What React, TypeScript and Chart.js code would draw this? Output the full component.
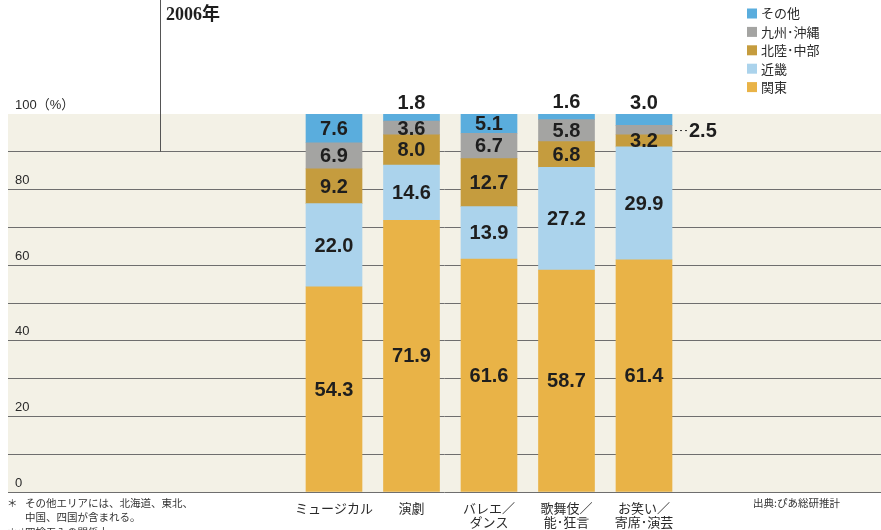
import React, { useEffect, useRef } from 'react';
import { Chart, registerables } from 'chart.js';

Chart.register(...registerables);

// ---- Data ----
const CATEGORIES: string[][] = [
  ['ミュージカル'],
  ['演劇'],
  ['バレエ／', 'ダンス'],
  ['歌舞伎／', '能･狂言'],
  ['お笑い／', '寄席･演芸'],
];
const SERIES_NAMES = ['関東', '近畿', '北陸･中部', '九州･沖縄', 'その他'];
const KANTO = [54.3, 71.9, 61.6, 58.7, 61.4];
const KINKI = [22.0, 14.6, 13.9, 27.2, 29.9];
const HOKURIKU_CHUBU = [9.2, 8.0, 12.7, 6.8, 3.2];
const KYUSHU_OKINAWA = [6.9, 3.6, 6.7, 5.8, 2.5];
const OTHER = [7.6, 1.8, 5.1, 1.6, 3.0];
const SERIES_VALUES = [KANTO, KINKI, HOKURIKU_CHUBU, KYUSHU_OKINAWA, OTHER];
const SERIES_COLORS = ['#e9b347', '#abd3ec', '#c59c3e', '#a4a4a2', '#5aaddd'];
const Y_LABEL_TICKS = [0, 20, 40, 60, 80, 100];
const TITLE = '2006年';
const NOTES = [
  ['＊', 'その他エリアには、北海道、東北、'],
  ['', '中国、四国が含まれる。'],
  ['＊＊', '四捨五入の関係上、'],
];
const SOURCE = '出典:ぴあ総研推計';

const SANS = "'Liberation Sans', 'Noto Sans CJK JP', sans-serif";
const JP = "'Noto Sans CJK JP', 'Liberation Sans', sans-serif";

const W = 881;
const H = 530;

// layout constants
const PLOT_LEFT = 8;
const PLOT_TOP = 114;
const PLOT_BOTTOM = 492;
const FIRST_CENTER = 334;
const STEP_PX = 77.5;

const xMin = -(FIRST_CENTER - PLOT_LEFT) / STEP_PX;
const xMax = xMin + (W - PLOT_LEFT) / STEP_PX;

const backgroundPlugin = {
  id: 'bgPlugin',
  beforeDraw(chart: any) {
    const { ctx, chartArea } = chart;
    ctx.save();
    ctx.fillStyle = '#ffffff';
    ctx.fillRect(0, 0, chart.width, chart.height);
    ctx.fillStyle = '#f3f1e6';
    ctx.fillRect(chartArea.left, chartArea.top, chartArea.right - chartArea.left, chartArea.bottom - chartArea.top);
    ctx.restore();
  },
  beforeDatasetsDraw(chart: any) {
    const { ctx } = chart;
    const y90 = chart.scales.y.getPixelForValue(90);
    ctx.save();
    ctx.strokeStyle = '#555';
    ctx.lineWidth = 1;
    ctx.beginPath();
    ctx.moveTo(160.5, 0);
    ctx.lineTo(160.5, y90);
    ctx.stroke();
    ctx.restore();
  },
};

const labelsPlugin = {
  id: 'valueLabels',
  afterDatasetsDraw(chart: any) {
    const { ctx } = chart;
    const last = chart.data.datasets.length - 1;
    ctx.save();
    ctx.font = `bold 20px ${SANS}`;
    ctx.fillStyle = '#1e1e1e';
    chart.data.datasets.forEach((ds: any, di: number) => {
      const meta = chart.getDatasetMeta(di);
      meta.data.forEach((bar: any, i: number) => {
        const v = ds.data[i].y as number;
        const { x, y, base, width } = bar.getProps(['x', 'y', 'base', 'width'], true);
        const text = v.toFixed(1);
        if (v > 3.1) {
          ctx.textAlign = 'center';
          ctx.textBaseline = 'middle';
          ctx.fillText(text, x, (y + base) / 2 + 1);
        } else if (di === last) {
          ctx.textAlign = 'center';
          ctx.textBaseline = 'middle';
          ctx.fillText(text, x, y - 11);
        } else {
          const mid = (y + base) / 2;
          const right = x + width / 2;
          ctx.save();
          ctx.strokeStyle = '#333';
          ctx.lineWidth = 1;
          ctx.setLineDash([2, 3]);
          ctx.beginPath();
          ctx.moveTo(right + 3, mid + 0.5);
          ctx.lineTo(right + 15, mid + 0.5);
          ctx.stroke();
          ctx.restore();
          ctx.textAlign = 'left';
          ctx.textBaseline = 'middle';
          ctx.fillText(text, right + 17, mid + 1);
        }
      });
    });
    ctx.restore();
  },
};

const decorPlugin = {
  id: 'decor',
  afterDraw(chart: any) {
    const { ctx } = chart;
    ctx.save();
    // title
    ctx.fillStyle = '#1e1e1e';
    ctx.font = `bold 18px 'Liberation Serif', 'Noto Sans CJK JP', serif`;
    ctx.textAlign = 'left';
    ctx.textBaseline = 'middle';
    ctx.fillText(TITLE, 166, 15);

    // legend (reverse order)
    const ds = chart.data.datasets;
    ctx.font = `13px ${JP}`;
    for (let k = 0; k < ds.length; k++) {
      const d = ds[ds.length - 1 - k];
      const cy = 13.5 + k * 18.4;
      ctx.fillStyle = d.backgroundColor;
      ctx.fillRect(747, cy - 5, 10, 10);
      ctx.fillStyle = '#2a2a2a';
      ctx.fillText(d.label, 761, cy);
    }

    // notes
    ctx.font = `10.5px ${JP}`;
    ctx.fillStyle = '#333';
    NOTES.forEach((n, i) => {
      const yy = 503 + i * 14.5;
      if (n[0]) ctx.fillText(n[0], 7, yy);
      ctx.fillText(n[1], 25, yy);
    });

    // source
    ctx.font = `10.5px ${JP}`;
    ctx.fillText(SOURCE, 753, 503);
    ctx.restore();
  },
};

export default function App() {
  const ref = useRef<HTMLCanvasElement | null>(null);

  useEffect(() => {
    if (!ref.current) return;
    const chart = new Chart(ref.current, {
      type: 'bar',
      data: {
        datasets: SERIES_NAMES.map((name, si) => ({
          label: name,
          data: SERIES_VALUES[si].map((v, i) => ({ x: i, y: v })),
          backgroundColor: SERIES_COLORS[si],
          borderWidth: 0,
          barThickness: 56,
        })),
      },
      options: {
        animation: false,
        responsive: true,
        maintainAspectRatio: false,
        devicePixelRatio: 1,
        layout: { padding: { top: PLOT_TOP, left: 0, right: 0, bottom: 0 } },
        plugins: {
          legend: { display: false },
          tooltip: { enabled: false },
          title: { display: false },
        },
        scales: {
          x: {
            type: 'linear',
            stacked: true,
            offset: false,
            bounds: 'ticks',
            min: xMin,
            max: xMax,
            afterBuildTicks: (scale: any) => {
              scale.ticks = CATEGORIES.map((_, i) => ({ value: i }));
            },
            afterFit: (scale: any) => {
              scale.height = H - PLOT_BOTTOM;
            },
            grid: { display: false, drawTicks: false, offset: false },
            border: { display: false },
            ticks: {
              autoSkip: false,
              maxRotation: 0,
              padding: 9,
              color: '#2a2a2a',
              font: { family: JP, size: 13, lineHeight: 1.1 },
              callback: (v: any) => {
                const c = CATEGORIES[Math.round(Number(v))];
                return c ? c : '';
              },
            },
          },
          y: {
            stacked: true,
            min: 0,
            max: 100,
            afterFit: (scale: any) => {
              scale.width = PLOT_LEFT;
            },
            border: { display: false },
            grid: {
              drawTicks: false,
              color: (ctx: any) => (ctx.tick && ctx.tick.value === 100 ? 'rgba(0,0,0,0)' : '#6e6e6e'),
              lineWidth: 1,
            },
            ticks: {
              stepSize: 10,
              mirror: true,
              padding: 7,
              labelOffset: -9,
              color: '#2a2a2a',
              font: { family: SANS, size: 13 },
              callback: (v: any) => {
                const n = Number(v);
                if (!Y_LABEL_TICKS.includes(n)) return '';
                return n === 100 ? '100（%）' : String(n);
              },
            },
          },
        },
      },
      plugins: [backgroundPlugin, labelsPlugin, decorPlugin],
    } as any);
    return () => chart.destroy();
  }, []);

  return (
    <div style={{ position: 'fixed', left: 0, top: 0, width: W, height: H, background: '#fff' }}>
      <canvas ref={ref} />
    </div>
  );
}
